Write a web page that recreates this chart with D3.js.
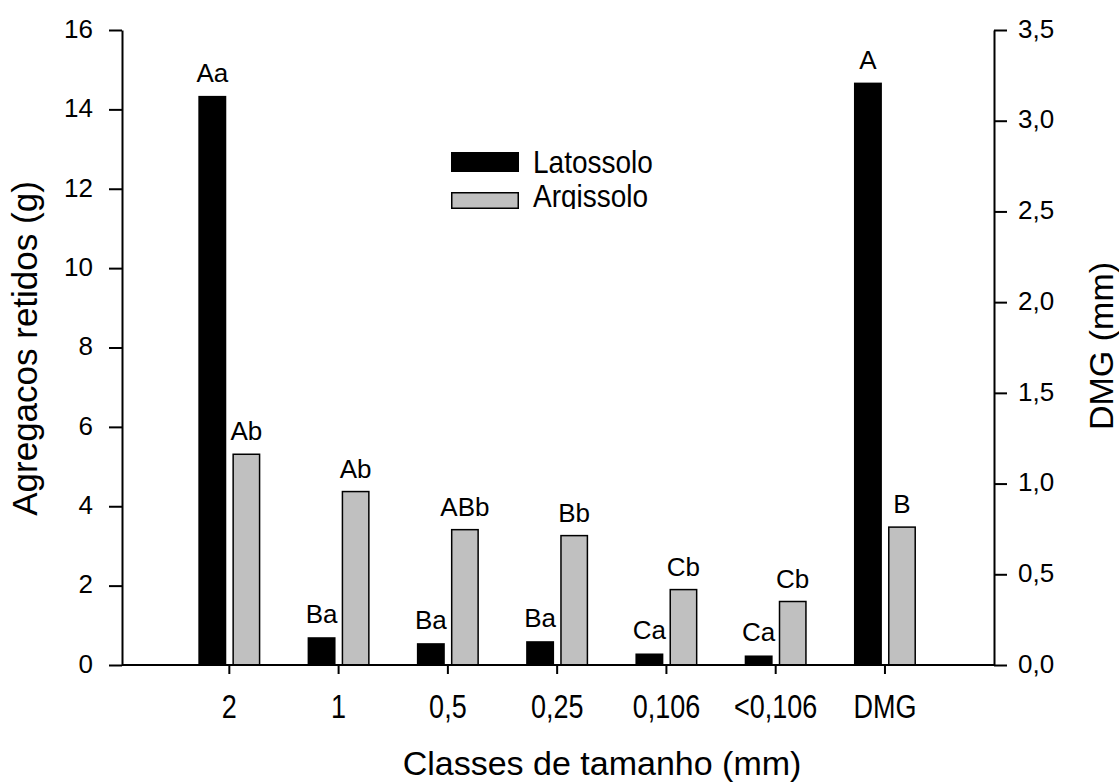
<!DOCTYPE html>
<html>
<head>
<meta charset="utf-8">
<script src="https://cdn.jsdelivr.net/npm/d3@7"></script>
<style>
	body { margin: 0; background: #fff; }
	svg { display: block; }
	text { font-family: "Liberation Sans", Arial, sans-serif; fill: #000; }
</style>
</head>
<body>
<svg id="chart" width="1119" height="784"></svg>
<script>

// data
var categories = ["2", "1", "0,5", "0,25", "0,106", "<0,106", "DMG"];
var series = ["Latossolo", "Argissolo"];
var latossolo = [14.34, 0.70, 0.55, 0.60, 0.29, 0.24, 3.21];
var argissolo = [5.31, 4.37, 3.41, 3.26, 1.90, 1.60, 0.76];
var latLetters = ["Aa", "Ba", "Ba", "Ba", "Ca", "Ca", "A"];
var argLetters = ["Ab", "Ab", "ABb", "Bb", "Cb", "Cb", "B"];
var rightAxisCats = ["DMG"];   // these use the DMG (mm) scale
var leftTicks = [0, 2, 4, 6, 8, 10, 12, 14, 16];
var rightTicks = [0, 0.5, 1, 1.5, 2, 2.5, 3, 3.5];

var svg = d3.select("#chart");

var x0 = 122, x1 = 994, yTop = 30, yBase = 665;

var x = d3.scaleBand()
	.domain(categories)
	.range([174.7, 939.6])
	.padding(0);

var xInner = d3.scaleBand()
	.domain(series)
	.range([-31, 31])
	.paddingInner(0.18);

var yL = d3.scaleLinear().domain([0, 16]).range([yBase, yTop]);
var yR = d3.scaleLinear().domain([0, 3.5]).range([yBase, yTop]);

var comma = function(v) { return d3.format(".1f")(v).replace(".", ","); };

// build rows
var rows = [];
categories.forEach(function(c, i) {
	var scale = rightAxisCats.indexOf(c) >= 0 ? yR : yL;
	rows.push({cat: c, s: "Latossolo", v: latossolo[i], lab: latLetters[i], y: scale});
	rows.push({cat: c, s: "Argissolo", v: argissolo[i], lab: argLetters[i], y: scale});
});

var center = function(d) { return x(d.cat) + x.bandwidth() / 2; };

// bars
svg.selectAll(".bar")
		.data(rows)
	.enter().append("rect")
		.attr("class", "bar")
		.attr("x", function(d) {
			var o = d.s == "Argissolo" ? 0.75 : 0;
			return center(d) + xInner(d.s) + o;
		})
		.attr("width", function(d) { return d.s == "Argissolo" ? xInner.bandwidth() - 1.5 : xInner.bandwidth(); })
		.attr("y", function(d) { return d.y(d.v); })
		.attr("height", function(d) { return yBase - d.y(d.v); })
		.attr("fill", function(d) { return d.s == "Argissolo" ? "#c0c0c0" : "#000"; })
		.attr("stroke", function(d) { return d.s == "Argissolo" ? "#000" : "none"; })
		.attr("stroke-width", 1.5);

// letters above bars
svg.selectAll(".lab")
		.data(rows)
	.enter().append("text")
		.attr("class", "lab")
		.attr("x", function(d) { return center(d) + xInner(d.s) + xInner.bandwidth() / 2; })
		.attr("y", function(d) { return d.y(d.v) - 14; })
		.attr("text-anchor", "middle")
		.style("font-size", "26px")
		.text(function(d) { return d.lab; });

// left axis
var gL = svg.append("g")
	.attr("transform", "translate(" + x0 + ",0)")
	.call(d3.axisLeft(yL).tickValues(leftTicks).tickSize(13).tickPadding(16).tickSizeOuter(0));

// right axis
var gR = svg.append("g")
	.attr("transform", "translate(" + x1 + ",0)")
	.call(d3.axisRight(yR).tickValues(rightTicks).tickFormat(comma).tickSize(13).tickPadding(11).tickSizeOuter(0));

[gL, gR].forEach(function(g) {
	g.selectAll("text").style("font-size", "26px").attr("dy", "0.28em");
});

// bottom axis
var gB = svg.append("g")
	.attr("transform", "translate(0," + yBase + ")");

gB.append("line")
	.attr("x1", x0).attr("x2", x1)
	.attr("y1", 0).attr("y2", 0)
	.attr("stroke", "#000");

var tick = gB.selectAll(".tick")
		.data(categories)
	.enter().append("g")
		.attr("class", "tick")
		.attr("transform", function(d) { return "translate(" + (x(d) + x.bandwidth() / 2) + ",0)"; });

tick.append("line")
	.attr("y1", 0).attr("y2", 9)
	.attr("stroke", "#000");

tick.append("text")
	.attr("text-anchor", "middle")
	.attr("transform", "translate(0,53) scale(1,1.2)")
	.style("font-size", "27px")
	.text(function(d) { return d; });

svg.selectAll(".domain, .tick line, line").attr("stroke", "#000").attr("stroke-width", 2);

// titles
svg.append("text")
	.attr("transform", "translate(37,348.5) rotate(-90)")
	.attr("text-anchor", "middle")
	.style("font-size", "35px")
	.text("Agregacos retidos (g)");

svg.append("text")
	.attr("transform", "translate(1113,346) rotate(-90)")
	.attr("text-anchor", "middle")
	.style("font-size", "34px")
	.text("DMG (mm)");

svg.append("text")
	.attr("x", 602)
	.attr("y", 775)
	.attr("text-anchor", "middle")
	.style("font-size", "34px")
	.text("Classes de tamanho (mm)");

// legend (bottom of it is cut off in the original)
svg.append("clipPath")
	.attr("id", "legclip")
	.append("rect")
	.attr("x", 400).attr("y", 130).attr("width", 300).attr("height", 79);

var leg = svg.append("g").attr("clip-path", "url(#legclip)");

var legItem = leg.selectAll(".leg")
		.data(series)
	.enter().append("g")
		.attr("class", "leg")
		.attr("transform", function(d, i) { return "translate(451," + (152 + i * 40) + ")"; });

legItem.append("rect")
	.attr("x", function(d) { return d == "Argissolo" ? 0.75 : 0; })
	.attr("y", function(d) { return d == "Argissolo" ? 0.75 : 0; })
	.attr("width", function(d) { return d == "Argissolo" ? 66.5 : 68; })
	.attr("height", function(d) { return d == "Argissolo" ? 15.5 : 20; })
	.attr("fill", function(d) { return d == "Argissolo" ? "#c0c0c0" : "#000"; })
	.attr("stroke", function(d) { return d == "Argissolo" ? "#000" : "none"; })
	.attr("stroke-width", 1.5);

legItem.append("text")
	.attr("transform", function(d, i) { return "translate(82," + (i == 0 ? 20.7 : 14.5) + ") scale(1,1.12)"; })
	.style("font-size", "28px")
	.text(function(d) { return d; });

</script>
</body>
</html>
